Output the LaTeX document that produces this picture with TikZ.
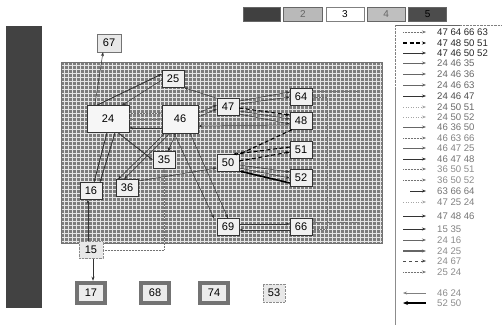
\documentclass[tikz,border=0pt]{standalone}
\usepackage{fontspec}
\setmainfont{Liberation Sans}
\usetikzlibrary{arrows.meta,positioning}
\definecolor{panelgray}{RGB}{124,124,124}
\definecolor{bardark}{RGB}{66,66,66}

\begin{document}
\begin{tikzpicture}[x=1pt,y=-1pt,
    nd/.style={draw=black!80,fill=gray!12,minimum width=22pt,
      minimum height=17pt,inner sep=0pt,
      font=\fontsize{11}{13}\selectfont},
    bignd/.style={nd,fill=gray!7},
    heavy/.style={nd,draw=black,double=black!55,double distance=3.5pt,
      line width=0.5pt,minimum width=28pt,minimum height=20pt,fill=gray!15},
    pale/.style={nd,draw=black!45,fill=gray!18,densely dotted},
    topbox/.style={draw=black!60,minimum width=38pt,minimum height=14pt,
      inner sep=0pt,font=\fontsize{10}{12}\selectfont},
    lgtext/.style={anchor=west,inner sep=0pt,
      font=\fontsize{9.6}{11}\selectfont},
    arr/.style={-{Stealth[length=4pt,width=3pt]},black!80,line width=0.5pt},
    thickarr/.style={arr,line width=0.9pt},
    heavyarr/.style={arr,black,line width=1.6pt},
    dotarr/.style={arr,densely dotted,black!55},
    dotln/.style={densely dotted,black!55,line width=0.5pt},
    dasharr/.style={arr,black,line width=1.1pt,dash pattern=on 4pt off 2.5pt},
    lgdot/.style={dotarr},
    lgdash/.style={dasharr},
    lgthin/.style={arr},
    lggray/.style={arr,black!60,line width=0.7pt},
    lgfaint/.style={arr,dotted,black!35},
    lgshort/.style={arr,shorten <=7pt},
    lgwide/.style={arr,black!60,line width=1.1pt},
    lgdashtwo/.style={arr,dashed,black!70},
    lgleft/.style={{Stealth[length=4pt,width=3pt]}-,black!50,line width=0.5pt},
    lgleftthick/.style={{Stealth[length=5pt,width=4pt]}-,black,line width=1.8pt}
  ]
  \useasboundingbox (0,0) rectangle (502,325);

  % left bar and grid panel
  \fill[bardark] (6,26) rectangle (42,308);
  \fill[panelgray] (61,62) rectangle (382,243);
  \foreach \gx in {64,68,...,380}
    \draw[white!90!black,line width=0.9pt] (\gx,62) -- (\gx,243);
  \foreach \gy in {65,69,...,241}
    \draw[white!90!black,line width=0.9pt] (61,\gy) -- (382,\gy);
  \draw[black!55,line width=0.4pt] (61,62) rectangle (382,243);

  % top boxes
  \node[topbox,fill=black!75,minimum width=37pt] (tb1) at (261.5,14) {};
  \node[topbox,fill=gray!55,text=black!60,minimum width=39pt,right=3pt of tb1] (tb2) {2};
  \node[topbox,fill=white,draw=black!50,right=3pt of tb2] (tb3) {3};
  \node[topbox,fill=gray!50,text=black!60,right=3pt of tb3] (tb4) {4};
  \node[topbox,fill=black!70,text=black,right=3pt of tb4] (tb5) {5};

  % nodes
  \node[pale,draw=black!55,solid,minimum width=24pt,minimum height=18pt] (n67) at (109,43) {67};
  \node[nd] (n25) at (173,79) {25};
  \node[bignd,minimum width=42pt,minimum height=27pt] (n24) at (108,119) {24};
  \node[bignd,minimum width=36pt,minimum height=28pt] (n46) at (180,119) {46};
  \node[nd] (n47) at (228,107) {47};
  \node[nd] (n64) at (301,97) {64};
  \node[nd] (n48) at (301,121) {48};
  \node[nd] (n51) at (301,150) {51};
  \node[nd] (n52) at (301,178) {52};
  \node[nd] (n50) at (228,163) {50};
  \node[nd] (n35) at (164,160) {35};
  \node[nd] (n36) at (127,188) {36};
  \node[nd] (n16) at (91,191) {16};
  \node[nd] (n69) at (228,227) {69};
  \node[nd] (n66) at (301,227) {66};
  \node[pale,minimum width=24pt] (n15) at (91,250) {15};
  \node[heavy] (n17) at (91,293) {17};
  \node[heavy] (n68) at (155,293) {68};
  \node[heavy] (n74) at (214,293) {74};
  \node[pale,minimum height=18pt] (n53) at (274,293) {53};
  \coordinate (c63a) at (358,91);
  \coordinate (c63b) at (358,222);
  \coordinate (cv) at (327,160);

  % connectors
  \draw[arr] ([xshift=8]n24.north west) -- ([xshift=-6]n67.south);
  \draw[thickarr] ([xshift=10]n24.north west) -- ([yshift=5]n25.west);
  \draw[arr] ([yshift=-1]n25.west) -- ([xshift=14]n24.north);
  \draw[dotarr] ([yshift=6]n24.east) -- ([yshift=6]n46.west);
  \draw[dotarr] (n24.east) -- (n46.west);
  \draw[arr] ([yshift=-9]n46.west) -- ([yshift=-9]n24.east);
  \draw[arr] ([yshift=6]n46.east) -- ([yshift=2]n47.west);
  \draw[arr] ([yshift=2]n46.east) -- ([yshift=-2]n47.west);
  \draw[arr] ([yshift=-4]n48.west) -- ([yshift=-7]n46.east);
  \draw[arr] (n47.north west) -- (n25.south east);
  \draw[arr] ([yshift=6]n47.east) -- ([yshift=5]n64.west);
  \draw[arr] ([yshift=3]n47.east) -- (n64.west);
  \draw[dasharr] ([yshift=-1]n47.east) -- ([yshift=6]n48.west);
  \draw[arr] ([yshift=-4]n47.east) -- ([yshift=2]n48.west);
  \draw[arr] ([yshift=-7]n47.east) -- ([yshift=-3]n48.west);
  \draw[dasharr] ([xshift=-9]n48.south) -- (n50.north east);
  \draw[dasharr] ([yshift=3]n51.west) -- ([xshift=5]n50.north);
  \draw[dasharr] ([yshift=2]n50.east) -- ([yshift=-2]n51.west);
  \draw[arr] ([yshift=-2]n50.east) -- ([yshift=6]n52.west);
  \draw[arr] ([yshift=-5]n50.east) -- (n52.west);
  \draw[heavyarr] ([yshift=-5]n52.west) -- ([yshift=-8]n50.east);
  \draw[thickarr] ([xshift=10]n24.south) -- (n35.west);
  \draw[thickarr] ([xshift=-1]n24.south) -- ([xshift=3]n16.north);
  \draw[thickarr] ([xshift=7]n24.south) -- ([xshift=9]n16.north);
  \draw[arr] ([xshift=-15]n46.south) -- ([xshift=-9]n36.north);
  \draw[arr] ([xshift=-10]n46.south) -- ([xshift=-3]n36.north);
  \draw[arr] ([xshift=-4]n46.south) -- ([xshift=4]n35.north);
  \draw[arr] ([yshift=7]n36.east) -- ([yshift=-5]n50.west);
  \draw[dotarr] ([yshift=2]n36.east) -- ([yshift=-8]n50.west);
  \draw[arr] ([xshift=10]n46.south) -- (n69.north);
  \draw[arr] ([xshift=-6]n46.south) -- ([xshift=-14]n69.north);
  \draw[arr] ([xshift=-3]n15.north) -- ([xshift=-3]n16.south);
  \draw[dotarr] (n15.east) -| (n35.south);
  \draw[arr] ([xshift=2]n15.south) -- ([xshift=2,yshift=2]n17.north);
  \draw[arr] ([yshift=3]n69.east) -- ([yshift=3]n66.west);
  \draw[arr] ([yshift=-3]n66.west) -- ([yshift=-3]n69.east);
  \draw[dotarr] (c63b) -- ([yshift=5]n66.east);
  \draw[dotarr] ([yshift=-2]n66.east) -| (cv) |- (n64.east);
  \draw[dotln] ([yshift=6]n64.east) -- (c63a);

  % legend
  \draw[black!60,line width=0.6pt] (395,25) -- (460,25);
  \draw[black!50,densely dotted] (460,25) -- (502,25);
  \draw[black!50,densely dotted] (395,25) -- (395,90);
  \draw[black!45,line width=0.6pt] (395,90) -- (395,325);
  \foreach \yy/\sty/\col/\txt in {
      32/lgdot/black!85/{47 64 66 63},
      43/lgdash/black!85/{47 48 50 51},
      53/lgthin/black!85/{47 46 50 52},
      63/lggray/black!60/{24 46 35},
      74/lggray/black!60/{24 46 36},
      85/lggray/black!60/{24 46 63},
      96/lgthin/black!70/{24 46 47},
      107/lgfaint/black!60/{24 50 51},
      117/lgfaint/black!55/{24 50 52},
      127/lggray/black!55/{46 36 50},
      138/lgdot/black!50/{46 63 66},
      148/lggray/black!50/{46 47 25},
      159/lgthin/black!55/{46 47 48},
      169/lgdot/black!45/{36 50 51},
      180/lgdot/black!45/{36 50 52},
      191/lgshort/black!55/{63 66 64},
      202/lgfaint/black!50/{47 25 24},
      216/lgthin/black!55/{47 48 46},
      229/lgthin/black!50/{15 35},
      240/lggray/black!45/{24 16},
      251/lgwide/black!45/{24 25},
      261/lgdashtwo/black!45/{24 67},
      272/lgdot/black!45/{25 24},
      293/lgleft/black!45/{46 24},
      303/lgleftthick/black!45/{52 50}}{
    \node[lgtext,text=\col] (lg\yy) at (437,\yy) {\txt};
    \draw[\sty] ([xshift=-34]lg\yy.west) -- ([xshift=-11]lg\yy.west);
  }
\end{tikzpicture}
\end{document}
